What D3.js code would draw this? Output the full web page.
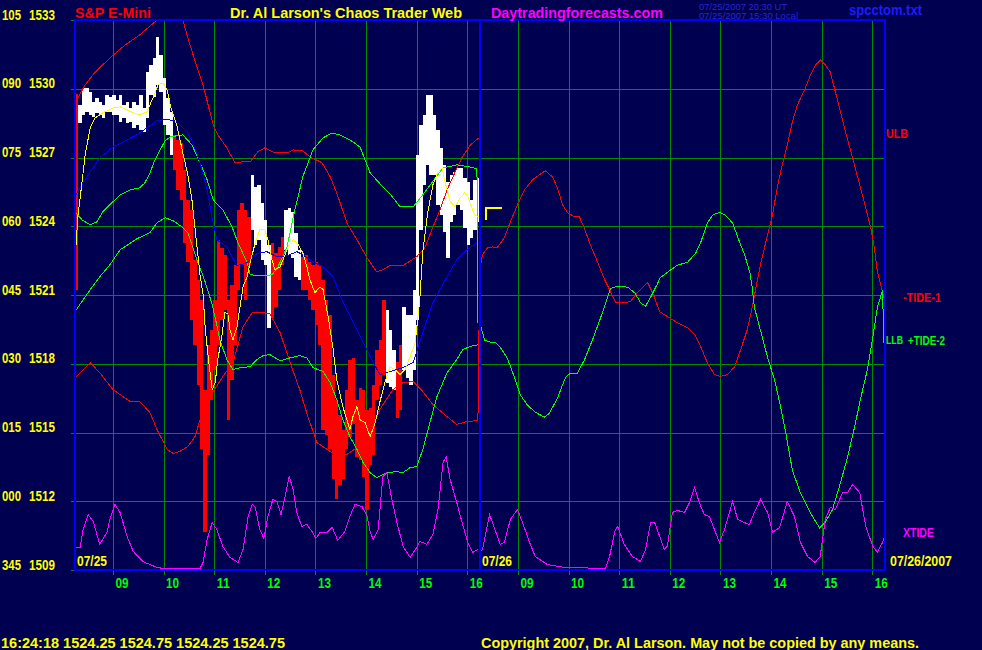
<!DOCTYPE html>
<html><head><meta charset="utf-8">
<script src="https://cdn.jsdelivr.net/npm/d3@7"></script>
<style>
html,body{margin:0;padding:0;background:#000050;}
svg{display:block;}
text{font-family:"Liberation Sans Narrow","Arial Narrow","Liberation Sans",Arial,sans-serif;font-weight:bold;}
</style></head><body>
<svg id="chart" width="982" height="650"></svg>
<script>
// ---------- axis data ----------
const priceTicks = [1509,1512,1515,1518,1521,1524,1527,1530,1533];
const degreeTicks = ["345","000","015","030","045","060","075","090","105"];
const hourTicks = [9,10,11,12,13,14,15,16];
const hourLabels = ["09","10","11","12","13","14","15","16"];
const dayLabels = ["07/25","07/26"];
const sessionStart = 8.25, sessionHours = 8;

// ---------- price bars (07/25, 4-minute bars from 08:15) ----------
const barStart = 8.25, barMinutes = 4;
const barHigh = [1529.78,1529.30,1530.04,1530.04,1529.86,1529.43,1529.60,1529.43,1529.30,1529.73,
1529.64,1529.73,1529.51,1529.73,1529.30,1529.43,1529.16,1529.43,1529.30,1529.73,
1529.16,1530.73,1531.04,1531.34,1532.26,1531.47,1530.47,1529.60,1528.99,1527.99,
1527.77,1527.64,1526.46,1525.15,1524.72,1522.54,1521.67,1520.80,1516.87,1518.83,
1519.49,1520.80,1523.41,1523.06,1522.76,1520.80,1521.45,1522.32,1524.72,1525.02,
1524.72,1524.41,1526.24,1525.72,1525.81,1525.02,1524.28,1523.19,1523.28,1522.84,
1523.11,1523.54,1524.72,1524.81,1524.63,1523.72,1522.97,1522.67,1522.76,1522.45,
1522.32,1522.45,1522.32,1521.67,1520.80,1520.14,1517.53,1516.44,1515.78,1515.13,
1516.87,1518.18,1518.27,1516.44,1516.96,1516.87,1516.00,1516.09,1517.09,1518.62,
1519.05,1520.80,1520.36,1519.49,1518.62,1518.09,1518.83,1520.49,1520.14,1520.14,
1521.23,1527.12,1528.42,1528.86,1529.73,1529.73,1528.86,1528.21,1527.42,1526.68,
1525.94,1526.24,1526.37,1526.55,1526.55,1526.11,1525.94,1525.15,1526.03,1526.11];
const barLow = [1521.23,1528.51,1528.86,1528.99,1528.86,1528.77,1528.95,1528.86,1528.73,1528.99,
1528.99,1528.86,1528.86,1528.55,1528.73,1528.51,1528.55,1528.29,1528.42,1528.21,
1528.12,1528.73,1529.73,1529.64,1530.17,1529.86,1528.42,1527.99,1527.12,1526.46,
1525.59,1525.15,1523.28,1522.45,1519.92,1518.83,1517.09,1514.26,1510.64,1514.04,
1516.44,1517.74,1518.83,1519.92,1520.36,1515.56,1517.31,1518.83,1521.23,1522.32,
1520.80,1522.32,1523.85,1523.19,1523.41,1522.54,1522.32,1519.57,1520.01,1520.49,
1521.23,1522.32,1522.97,1522.76,1522.63,1521.80,1521.67,1521.23,1521.23,1520.80,
1520.36,1519.71,1518.83,1515.13,1514.91,1514.26,1512.95,1512.08,1512.73,1512.95,
1514.26,1514.82,1515.35,1513.95,1513.82,1513.08,1511.64,1513.60,1514.04,1516.44,
1517.09,1517.53,1517.18,1517.00,1516.87,1515.65,1516.00,1517.74,1517.40,1517.09,
1517.74,1519.92,1523.85,1525.81,1526.68,1526.24,1526.24,1524.94,1524.50,1523.76,
1522.63,1524.20,1524.50,1524.94,1524.72,1523.93,1523.19,1523.50,1523.85,1524.20];
const barColor = "R" + "WWWWWWWWWWWWWWWWWWWWWWWWWWWW" + "RRRRRRRRRRRRRRRRRRRRRRR" + "WWWWWW" + "RRRR" +
  "WWWWW" + "RRRRRRRRRRRRRRRRRRRRRRRRR" + "WWW" + "RR" + "WWWWWWWWWWWWWWWWWWWWWWW";

// ---------- day 1 (07/25) lines: [hour, price] ----------
const ulb1 = [[8.25,1529.38],[8.45,1530.17],[8.65,1530.73],[8.94,1531.34],[9.24,1531.91],[9.53,1532.35],[9.87,1533.00],[10.13,1533.74],[10.38,1533.00],[10.52,1531.91],[10.68,1530.82],[10.78,1530.17],[10.88,1529.29],[10.98,1528.42],[11.07,1527.99],[11.25,1527.42],[11.41,1526.77],[11.55,1526.81],[11.71,1526.81],[11.86,1527.25],[12.00,1527.42],[12.20,1527.20],[12.44,1527.20],[12.56,1527.33],[12.75,1527.29],[12.89,1527.03],[13.13,1526.77],[13.29,1526.16],[13.42,1525.46],[13.62,1524.15],[13.82,1523.41],[14.02,1522.62],[14.21,1522.01],[14.33,1522.10],[14.47,1522.28],[14.73,1522.28],[15.00,1522.67],[15.16,1523.06],[15.30,1523.85],[15.46,1524.72],[15.60,1525.59],[15.76,1526.37],[15.89,1526.98],[16.05,1527.51],[16.17,1527.77],[16.25,1527.86]];
const llb1 = [[8.25,1517.37],[8.55,1518.05],[8.74,1517.61],[9.00,1516.87],[9.34,1516.35],[9.53,1516.35],[9.73,1515.87],[9.87,1515.13],[10.07,1514.26],[10.19,1514.08],[10.32,1514.17],[10.48,1514.39],[10.62,1514.82],[10.72,1515.56],[10.92,1516.57],[11.17,1517.44],[11.37,1518.05],[11.57,1519.62],[11.75,1520.23],[11.96,1520.23],[12.10,1520.19],[12.30,1519.36],[12.50,1518.05],[12.69,1516.87],[12.85,1515.69],[13.03,1514.56],[13.23,1514.26],[13.42,1513.99],[13.62,1514.04],[13.82,1514.34],[14.02,1514.56],[14.27,1516.00],[14.53,1516.87],[14.73,1517.18],[14.93,1517.22],[15.12,1516.79],[15.32,1516.22],[15.60,1515.69],[15.79,1515.35],[15.99,1515.48],[16.21,1515.52],[16.22,1519.46]];
const grnUp1 = [[8.25,1524.63],[8.39,1524.28],[8.55,1524.06],[8.68,1524.19],[8.80,1524.63],[8.94,1524.94],[9.14,1525.37],[9.34,1525.59],[9.53,1525.68],[9.63,1525.89],[9.73,1526.33],[9.83,1526.90],[9.93,1527.33],[10.03,1527.73],[10.13,1527.90],[10.38,1527.99],[10.56,1527.55],[10.72,1526.77],[10.86,1526.03],[10.98,1525.15],[11.17,1524.72],[11.35,1523.98],[11.47,1523.28],[11.65,1522.41],[11.71,1521.88],[11.96,1521.84],[12.14,1521.88],[12.26,1522.23],[12.44,1523.10],[12.56,1524.41],[12.75,1526.16],[12.95,1527.33],[13.15,1527.86],[13.33,1528.07],[13.48,1527.99],[13.68,1527.77],[13.88,1527.46],[13.98,1526.90],[14.08,1526.33],[14.33,1525.72],[14.47,1525.42],[14.67,1524.85],[14.93,1524.85],[15.12,1525.37],[15.52,1526.55],[15.80,1526.68],[16.05,1526.59],[16.19,1526.50],[16.21,1519.77]];
const grnLo1 = [[8.25,1520.27],[8.41,1520.79],[8.55,1521.23],[8.74,1521.80],[8.94,1522.32],[9.14,1522.97],[9.47,1523.45],[9.73,1523.72],[9.87,1524.15],[10.03,1524.37],[10.19,1524.24],[10.36,1523.98],[10.48,1523.72],[10.56,1523.20],[10.68,1522.41],[10.82,1521.58],[10.96,1520.58],[11.05,1519.70],[11.11,1519.05],[11.25,1518.18],[11.37,1517.74],[11.51,1517.83],[11.71,1517.87],[11.84,1518.18],[11.96,1518.35],[12.10,1518.40],[12.30,1518.13],[12.50,1518.26],[12.69,1518.35],[12.83,1518.26],[12.95,1517.83],[13.15,1517.66],[13.29,1517.18],[13.42,1516.44],[13.54,1515.56],[13.68,1514.82],[13.82,1514.26],[13.94,1513.69],[14.08,1513.25],[14.21,1513.03],[14.41,1513.25],[14.61,1513.29],[14.73,1513.25],[14.87,1513.47],[15.00,1513.51],[15.12,1514.26],[15.26,1515.43],[15.40,1516.57],[15.60,1517.61],[15.79,1518.18],[15.91,1518.62],[16.05,1518.75],[16.21,1518.83]];
const blue1 = [[8.25,1525.28],[8.35,1525.68],[8.55,1526.37],[8.74,1526.98],[9.00,1527.46],[9.20,1527.68],[9.47,1527.99],[9.67,1528.29],[9.87,1528.60],[10.07,1528.68],[10.26,1528.55],[10.46,1528.12],[10.58,1527.64],[10.72,1526.77],[10.86,1525.59],[10.96,1524.37],[11.05,1523.41],[11.25,1523.10],[11.35,1522.67],[11.45,1522.28],[11.65,1522.41],[11.84,1522.80],[12.04,1522.89],[12.24,1522.67],[12.44,1522.71],[12.63,1522.89],[12.75,1522.76],[12.95,1522.45],[13.15,1522.23],[13.35,1521.80],[13.52,1520.79],[13.62,1520.36],[13.82,1519.49],[14.08,1518.31],[14.27,1517.53],[14.47,1517.66],[14.73,1517.83],[14.93,1518.05],[15.12,1519.36],[15.32,1520.67],[15.60,1521.80],[15.79,1522.54],[15.99,1522.97],[16.19,1523.28]];
const yellow1 = [[8.27,1523.19],[8.31,1524.50],[8.39,1525.94],[8.45,1527.12],[8.55,1528.29],[8.65,1528.73],[8.80,1528.95],[9.00,1529.16],[9.14,1529.21],[9.28,1529.08],[9.40,1528.95],[9.53,1528.86],[9.67,1528.99],[9.79,1529.60],[9.89,1530.17],[9.99,1530.25],[10.07,1529.95],[10.13,1529.29],[10.19,1528.86],[10.26,1528.42],[10.38,1527.20],[10.48,1526.24],[10.56,1525.15],[10.66,1523.10],[10.72,1521.88],[10.78,1521.01],[10.82,1519.62],[10.88,1518.31],[10.96,1516.87],[11.02,1517.18],[11.07,1518.18],[11.15,1519.18],[11.21,1520.23],[11.27,1520.19],[11.31,1519.49],[11.37,1519.05],[11.45,1519.62],[11.51,1520.49],[11.57,1521.36],[11.65,1521.80],[11.71,1522.41],[11.81,1523.28],[11.90,1523.85],[12.00,1523.85],[12.06,1523.41],[12.14,1522.54],[12.20,1522.10],[12.30,1522.23],[12.36,1522.54],[12.46,1523.10],[12.56,1523.41],[12.66,1523.19],[12.75,1522.84],[12.83,1522.23],[12.89,1521.67],[12.99,1521.10],[13.09,1521.36],[13.15,1521.23],[13.25,1520.06],[13.35,1518.62],[13.42,1517.31],[13.54,1516.13],[13.68,1515.13],[13.74,1515.69],[13.82,1516.13],[13.88,1515.56],[13.98,1515.43],[14.08,1514.82],[14.18,1515.43],[14.27,1516.31],[14.37,1517.18],[14.47,1517.87],[14.57,1517.74],[14.67,1517.53],[14.77,1517.74],[14.87,1518.31],[14.97,1518.92],[15.06,1520.79],[15.12,1522.89],[15.22,1524.63],[15.32,1525.81],[15.42,1526.37],[15.50,1526.55],[15.56,1525.94],[15.66,1525.07],[15.76,1524.85],[15.86,1525.24],[15.95,1525.46],[16.01,1525.28],[16.09,1524.80],[16.15,1524.50],[16.23,1524.41]];
const xtide1 = [[8.25,1509.98],[8.35,1509.98],[8.41,1510.77],[8.51,1511.42],[8.61,1511.12],[8.74,1510.12],[8.88,1510.64],[8.94,1511.21],[9.04,1511.86],[9.14,1511.51],[9.28,1510.46],[9.40,1509.81],[9.59,1509.37],[9.87,1509.11],[9.99,1509.07],[10.72,1509.07],[10.78,1509.33],[10.86,1510.33],[10.96,1511.07],[11.05,1510.77],[11.17,1510.03],[11.31,1509.55],[11.47,1509.33],[11.57,1509.90],[11.67,1511.34],[11.75,1511.86],[11.81,1511.73],[11.90,1510.77],[11.98,1510.38],[12.06,1511.34],[12.16,1512.08],[12.24,1511.99],[12.32,1511.42],[12.40,1512.21],[12.48,1513.08],[12.56,1512.51],[12.63,1511.51],[12.73,1510.90],[12.83,1510.99],[12.93,1510.68],[13.01,1510.38],[13.09,1510.64],[13.23,1510.64],[13.33,1510.86],[13.44,1510.29],[13.58,1510.68],[13.68,1511.34],[13.78,1511.86],[13.92,1511.77],[14.02,1511.34],[14.08,1510.68],[14.14,1510.33],[14.24,1510.77],[14.33,1513.08],[14.41,1513.25],[14.51,1512.08],[14.61,1511.07],[14.73,1510.03],[14.87,1509.55],[15.00,1509.98],[15.06,1510.25],[15.20,1510.12],[15.32,1510.55],[15.42,1511.64],[15.52,1513.69],[15.58,1513.95],[15.66,1512.95],[15.79,1511.95],[15.89,1511.12],[16.01,1510.20],[16.11,1509.77],[16.21,1509.90]];

// ---------- day 2 (07/26) projections: [hour, price] ----------
const tide1 = [[8.25,1522.19],[8.30,1522.76],[8.40,1523.06],[8.50,1523.10],[8.59,1523.06],[8.73,1523.50],[8.85,1524.19],[8.99,1524.94],[9.13,1525.59],[9.29,1526.03],[9.42,1526.24],[9.54,1526.42],[9.68,1526.16],[9.78,1525.68],[9.88,1524.94],[9.98,1524.59],[10.12,1524.41],[10.21,1524.41],[10.31,1523.93],[10.43,1523.19],[10.57,1522.45],[10.71,1521.67],[10.81,1521.23],[10.93,1520.66],[11.10,1520.66],[11.22,1520.71],[11.36,1521.10],[11.56,1521.54],[11.66,1521.10],[11.80,1520.27],[11.95,1520.06],[12.15,1519.79],[12.35,1519.57],[12.49,1519.27],[12.61,1518.74],[12.74,1518.05],[12.88,1517.53],[13.00,1517.44],[13.14,1517.53],[13.28,1517.87],[13.40,1518.62],[13.53,1519.49],[13.63,1520.49],[13.73,1521.67],[13.79,1522.32],[13.93,1523.63],[14.03,1524.50],[14.12,1525.68],[14.22,1526.68],[14.32,1527.55],[14.42,1528.55],[14.52,1529.29],[14.66,1529.95],[14.78,1530.60],[14.88,1531.04],[14.98,1531.26],[15.07,1531.04],[15.17,1530.73],[15.27,1529.86],[15.37,1528.99],[15.47,1528.12],[15.61,1526.98],[15.75,1525.81],[15.87,1524.80],[15.97,1523.93],[16.04,1523.06],[16.10,1522.01],[16.18,1521.32],[16.24,1520.79]];
const tide2 = [[8.25,1519.77],[8.34,1519.03],[8.46,1518.94],[8.55,1518.94],[8.65,1518.72],[8.79,1518.24],[8.93,1517.41],[9.05,1516.63],[9.19,1516.19],[9.34,1515.89],[9.52,1515.67],[9.62,1515.84],[9.78,1516.50],[9.94,1517.41],[10.04,1517.59],[10.17,1517.59],[10.31,1518.15],[10.47,1519.03],[10.63,1519.99],[10.73,1520.64],[10.83,1521.29],[10.97,1521.38],[11.17,1521.34],[11.31,1521.08],[11.43,1520.64],[11.52,1520.51],[11.62,1520.90],[11.76,1521.51],[11.80,1521.73],[11.95,1521.99],[12.15,1522.30],[12.35,1522.43],[12.51,1522.82],[12.61,1523.30],[12.74,1524.13],[12.84,1524.48],[12.98,1524.61],[13.10,1524.48],[13.24,1524.13],[13.38,1523.30],[13.48,1522.73],[13.58,1521.99],[13.63,1521.29],[13.67,1520.46],[13.79,1519.46],[13.93,1518.28],[14.07,1517.28],[14.19,1516.10],[14.28,1515.10],[14.42,1513.36],[14.58,1512.36],[14.78,1511.48],[14.96,1510.83],[15.07,1511.09],[15.21,1511.62],[15.37,1512.80],[15.51,1513.93],[15.65,1515.24],[15.76,1516.41],[15.90,1517.72],[16.00,1519.03],[16.10,1520.46],[16.20,1521.20],[16.23,1518.90]];
const xtide2 = [[8.25,1509.81],[8.30,1509.90],[8.44,1511.42],[8.53,1510.86],[8.65,1510.12],[8.73,1510.20],[8.85,1511.21],[8.99,1511.64],[9.09,1511.07],[9.23,1510.20],[9.34,1509.59],[9.58,1509.24],[9.92,1509.11],[10.73,1509.07],[10.81,1509.59],[10.91,1510.68],[10.97,1510.90],[11.10,1510.12],[11.26,1509.59],[11.42,1509.37],[11.52,1509.90],[11.62,1511.07],[11.70,1511.07],[11.80,1510.46],[11.89,1509.90],[11.95,1510.03],[12.05,1511.51],[12.15,1511.60],[12.29,1511.51],[12.39,1511.95],[12.49,1512.60],[12.58,1511.95],[12.68,1511.42],[12.78,1511.34],[12.88,1510.77],[12.98,1510.20],[13.08,1510.77],[13.24,1511.99],[13.34,1511.21],[13.47,1511.07],[13.57,1510.99],[13.67,1511.51],[13.79,1512.08],[13.93,1511.51],[14.03,1510.64],[14.17,1510.86],[14.32,1511.99],[14.46,1511.34],[14.58,1510.20],[14.72,1509.59],[14.87,1509.33],[14.97,1509.59],[15.07,1511.21],[15.17,1511.73],[15.27,1511.64],[15.41,1512.38],[15.51,1512.38],[15.61,1512.73],[15.75,1512.38],[15.87,1510.90],[16.01,1510.03],[16.10,1509.77],[16.20,1510.20],[16.24,1510.46]];
const lastMark = [[8.36,1524.28],[8.36,1524.80],[8.69,1524.80]];

// ---------- texts ----------
const titleText = "S&P E-Mini";
const headerText = "Dr. Al Larson's Chaos Trader Web";
const siteText = "Daytradingforecasts.com";
const stampUT = "07/25/2007 20:30 UT";
const stampLocal = "07/25/2007 15:30 Local";
const fileText = "spcctom.txt";
const quoteText = "16:24:18  1524.25 1524.75 1524.25 1524.75";
const copyText = "Copyright 2007, Dr. Al Larson. May not be copied by any means.";
const endDateText = "07/26/2007";

// ---------- drawing ----------
const svg = d3.select("#chart");
const W = 982, H = 650;
const L = 75, R = 885, T = 20, B = 570;
const BG = "#000050", GRID = "#008c00";

const x = d3.scaleLinear().domain([0, 2*sessionHours]).range([L, R]);
const y = d3.scaleLinear().domain([1509, 1533]).range([B, T]);
const X = (day, h) => x(day*sessionHours + h - sessionStart);

svg.append("rect").attr("width", W).attr("height", H).attr("fill", BG);
svg.append("defs").append("clipPath").attr("id","plot")
  .append("rect").attr("x", L).attr("y", T).attr("width", R-L).attr("height", B-T);

const g = svg.append("g").attr("shape-rendering","crispEdges");

// horizontal grid + left ticks
g.selectAll("line.hg").data(priceTicks).join("line")
  .attr("x1", L-4).attr("x2", R).attr("y1", d=>Math.round(y(d))+0.5).attr("y2", d=>Math.round(y(d))+0.5)
  .attr("stroke", GRID).attr("stroke-width",1);
// vertical grid + bottom ticks
[0,1].forEach(day=>{
  g.selectAll("line.vg"+day).data(hourTicks).join("line")
    .attr("x1", d=>Math.round(X(day,d))+0.5).attr("x2", d=>Math.round(X(day,d))+0.5)
    .attr("y1", T).attr("y2", B+5).attr("stroke", GRID).attr("stroke-width",1);
  svg.selectAll("text.hl"+day).data(hourTicks).join("text")
    .attr("x", d=>X(day,d)+2.5).attr("y", 588)
    .attr("fill","#00ff00").attr("font-size",15)
    .attr("textLength",13).attr("lengthAdjust","spacingAndGlyphs")
    .text((d,i)=>hourLabels[i]);
});

const plot = svg.append("g").attr("clip-path","url(#plot)").attr("shape-rendering","crispEdges");

// price bars
plot.selectAll("rect.bar").data(barHigh).join("rect")
  .attr("x", (d,i)=>X(0, barStart + i*barMinutes/60))
  .attr("width", (d,i)=>X(0, barStart + (i+1)*barMinutes/60) - X(0, barStart + i*barMinutes/60))
  .attr("y", d=>y(d))
  .attr("height", (d,i)=>Math.max(1, y(barLow[i]) - y(d)))
  .attr("fill", (d,i)=>barColor[i]==="W" ? "#ffffff" : "#ff0000");

function drawLine(data, day, color, width){
  plot.append("path").datum(data)
    .attr("d", d3.line().x(d=>X(day,d[0])).y(d=>y(d[1])))
    .attr("fill","none").attr("stroke",color).attr("stroke-width",width||1);
}
drawLine(ulb1,0,"#ff0000");
drawLine(llb1,0,"#ff0000");
drawLine(grnUp1,0,"#00ff00");
drawLine(grnLo1,0,"#00ff00");
drawLine(blue1,0,"#0000ff");
drawLine(tide1,1,"#ff0000");
drawLine(tide2,1,"#00ff00");
drawLine(yellow1,0,"#ffff00");
drawLine(xtide1,0,"#ff00ff");
drawLine(xtide2,1,"#ff00ff");
drawLine(lastMark,1,"#ffff00",2);

// border and day divider
svg.append("rect").attr("x",L).attr("y",T).attr("width",R-L).attr("height",B-T)
  .attr("fill","none").attr("stroke","#0000ff").attr("stroke-width",2).attr("shape-rendering","crispEdges");
svg.append("line").attr("x1",X(1,sessionStart)).attr("x2",X(1,sessionStart)).attr("y1",T).attr("y2",B)
  .attr("stroke","#0000ff").attr("stroke-width",2).attr("shape-rendering","crispEdges");

// left price/degree labels
svg.selectAll("text.deg").data(priceTicks).join("text")
  .attr("x",2).attr("y",d=>y(d)-0.5).attr("fill","#ffff00").attr("font-size",15)
  .attr("textLength",19).attr("lengthAdjust","spacingAndGlyphs")
  .text((d,i)=>degreeTicks[i]);
svg.selectAll("text.prc").data(priceTicks).join("text")
  .attr("x",29).attr("y",d=>y(d)-0.5).attr("fill","#ffff00").attr("font-size",15)
  .attr("textLength",26).attr("lengthAdjust","spacingAndGlyphs")
  .text(d=>d);

function txt(s, xx, yy, color, size, len){
  const t = svg.append("text").attr("x",xx).attr("y",yy).attr("fill",color).attr("font-size",size).text(s);
  if(len) t.attr("textLength",len).attr("lengthAdjust","spacingAndGlyphs");
  return t;
}
txt(titleText, 75, 18, "#ff0000", 15, 76);
txt(headerText, 230, 18, "#ffff00", 15, 232);
txt(siteText, 491, 17.5, "#ff00ff", 15, 172);
txt(stampUT, 699, 9.5, "#2626d6", 9, 88).style("font-weight","normal");
txt(stampLocal, 699, 18.5, "#2626d6", 9, 99).style("font-weight","normal");
txt(fileText, 849, 15, "#1c1cff", 14, 73);

txt(dayLabels[0], 77, 566, "#ffff00", 15, 30);
txt(dayLabels[1], 482, 566, "#ffff00", 15, 30);
txt(endDateText, 890, 566, "#ffff00", 15, 62);

txt("ULB", 886, 138, "#ff0000", 13, 22);
txt("-TIDE-1", 903, 302, "#ff0000", 13, 38);
txt("LLB", 886, 344, "#00ff00", 11, 17);
txt("+TIDE-2", 908, 345, "#00ff00", 13, 37);
txt("XTIDE", 903, 537, "#ff00ff", 13, 31);

txt(quoteText, 1, 648, "#ffff00", 14, 284);
txt(copyText, 481, 648, "#ffff00", 14, 438);
</script>
</body></html>
